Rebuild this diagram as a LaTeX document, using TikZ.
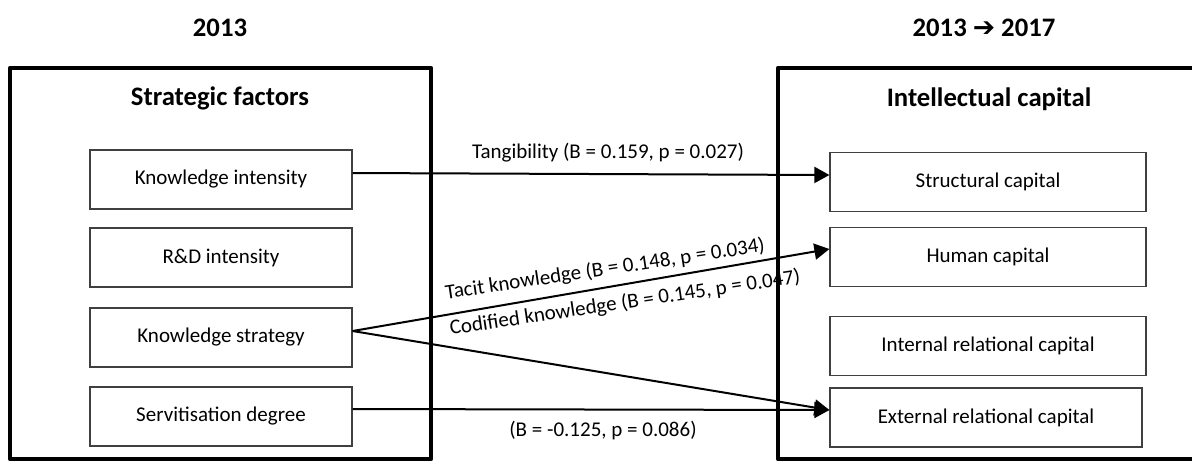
\documentclass[tikz,border=0pt]{standalone}
\usepackage{fontspec}
\setmainfont{Carlito}
\newfontfamily\dejavu{DejaVu Sans}
\usetikzlibrary{arrows.meta}
\begin{document}
\begin{tikzpicture}[x=0.5pt,y=-0.5pt,
  bigbox/.style={draw=black, line width=2.4pt, line join=round},
  itembox/.style={draw=black!75, line width=0.6pt, minimum height=29.5pt, inner sep=0pt, font=\fontsize{10.5pt}{12pt}\selectfont},
  lbox/.style={itembox, minimum width=131pt},
  rbox/.style={itembox, minimum width=158pt},
  title/.style={font=\fontsize{13.35pt}{16pt}\selectfont\bfseries, inner sep=0pt},
  lab/.style={font=\fontsize{10.5pt}{12pt}\selectfont, inner sep=0pt},
  arr/.style={line width=1pt, -{Triangle[length=7.5pt,width=8pt]}}
]
\useasboundingbox (0,0) rectangle (1192,462);
% titles
\node[title] (t1) at (220,28) {2013};
\node[title] (t2) at (984,28) {2013 {\dejavu\bfseries ➔} 2017};
\node[title] (sf) at (220,98) {Strategic factors};
\node[title] (ic) at (989,99) {Intellectual capital};
% left items
\node[lbox] (ki) at (221,179.5) {Knowledge intensity};
\node[lbox] (rd) at (221,257.5) {R\&D intensity};
\node[lbox] (ks) at (221,337.5) {Knowledge strategy};
\node[lbox] (sd) at (221,416.5) {Servitisation degree};
% right items
\node[rbox] (sc) at (988,182) {Structural capital};
\node[rbox] (hc) at (988,257) {Human capital};
\node[rbox] (irc) at (988,346) {Internal relational capital};
\node[rbox, minimum width=156pt] (erc) at (986,417.5) {External relational capital};
% labels
\node[lab] (l1) at (608,153) {Tangibility (B = 0.159, p = 0.027)};
\node[lab, rotate=8.5] (l2) at (605,269.5) {Tacit knowledge (B = 0.148, p = 0.034)};
\node[lab, rotate=8.5] (l3) at (625,303) {Codified knowledge (B = 0.145, p = 0.047)};
\node[lab] (l4) at (603,430) {(B = -0.125, p = 0.086)};
% big frames
\draw[bigbox] (10,68) rectangle (431,459);
\draw[bigbox] (778,68) rectangle (1200,459);
% connectors
\draw[arr] ([yshift=3.25pt]ki.east) -- ([yshift=3.5pt]sc.west);
\draw[arr] ([yshift=3.25pt]ks.east) -- ([yshift=4pt]hc.west);
\draw[arr] ([yshift=3.25pt]ks.east) -- ([yshift=3.75pt]erc.west);
\draw[arr] ([yshift=3.75pt]sd.east) -- ([yshift=3.75pt]erc.west);
\end{tikzpicture}
\end{document}
